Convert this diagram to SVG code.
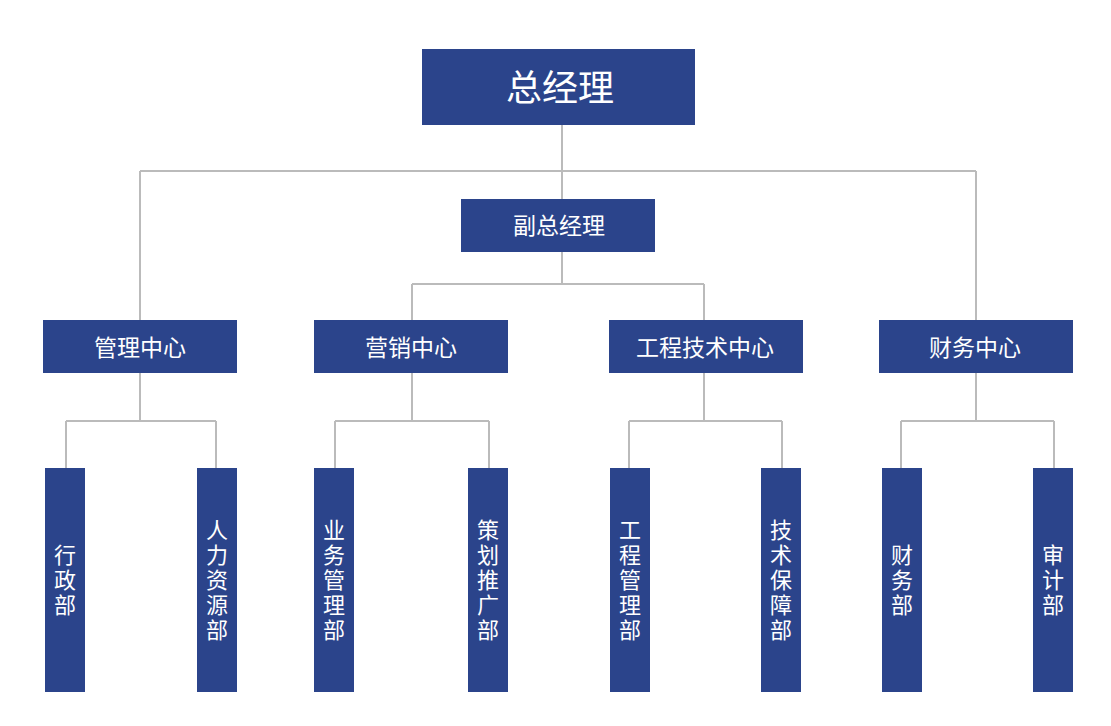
<svg xmlns="http://www.w3.org/2000/svg" width="1111" height="726" viewBox="0 0 1111 726">
<style>
.box{fill:#2b448b}
.t{fill:#ffffff;font-family:"Noto Sans CJK SC","Noto Sans",sans-serif;text-anchor:middle;dominant-baseline:central}
.m{font-size:23px}
.v{font-family:"Noto Sans CJK SC","Noto Sans",sans-serif;fill:#ffffff;font-size:22px;writing-mode:vertical-rl;text-orientation:upright;text-anchor:middle;letter-spacing:3px}
.ln{fill:none;stroke:#bbbbbb;stroke-width:2}
</style>
<rect width="1111" height="726" fill="#ffffff"/>
<g id="connectors">
<path class="ln" d="M562 125V199M140 171H976M140 171V320M976 171V320"/>
<path class="ln" d="M562 252V284M412 284H704M412 284V320M704 284V320"/>
<path class="ln" d="M140 373V421M66 421H216M66 421V468M216 421V468"/>
<path class="ln" d="M412 373V421M335 421H489M335 421V468M489 421V468"/>
<path class="ln" d="M704 373V421M629 421H782M629 421V468M782 421V468"/>
<path class="ln" d="M976 373V421M901 421H1054M901 421V468M1054 421V468"/>
</g>
<g id="n-gm"><rect class="box" x="422" y="49" width="273" height="76"/><text class="t" x="560" y="85" font-size="36">总经理</text></g>
<g id="n-vgm"><rect class="box" x="461" y="199" width="194" height="53"/><text class="t m" x="559" y="224">副总经理</text></g>
<g id="n-mgmt"><rect class="box" x="43" y="320" width="194" height="53"/><text class="t m" x="140" y="346">管理中心</text></g>
<g id="n-mkt"><rect class="box" x="314" y="320" width="194" height="53"/><text class="t m" x="411" y="346">营销中心</text></g>
<g id="n-eng"><rect class="box" x="609" y="320" width="194" height="53"/><text class="t m" x="705" y="346">工程技术中心</text></g>
<g id="n-fin"><rect class="box" x="879" y="320" width="194" height="53"/><text class="t m" x="975" y="346">财务中心</text></g>
<g id="n-admin"><rect class="box" x="45" y="468" width="40" height="224"/><text class="v" x="65" y="581">行政部</text></g>
<g id="n-hr"><rect class="box" x="197" y="468" width="40" height="224"/><text class="v" x="217" y="581">人力资源部</text></g>
<g id="n-biz"><rect class="box" x="314" y="468" width="40" height="224"/><text class="v" x="334" y="581">业务管理部</text></g>
<g id="n-plan"><rect class="box" x="468" y="468" width="40" height="224"/><text class="v" x="488" y="581">策划推广部</text></g>
<g id="n-engm"><rect class="box" x="610" y="468" width="40" height="224"/><text class="v" x="630" y="581">工程管理部</text></g>
<g id="n-tech"><rect class="box" x="761" y="468" width="40" height="224"/><text class="v" x="781" y="581">技术保障部</text></g>
<g id="n-finance"><rect class="box" x="882" y="468" width="40" height="224"/><text class="v" x="902" y="581">财务部</text></g>
<g id="n-audit"><rect class="box" x="1033" y="468" width="40" height="224"/><text class="v" x="1053" y="581">审计部</text></g>
</svg>
